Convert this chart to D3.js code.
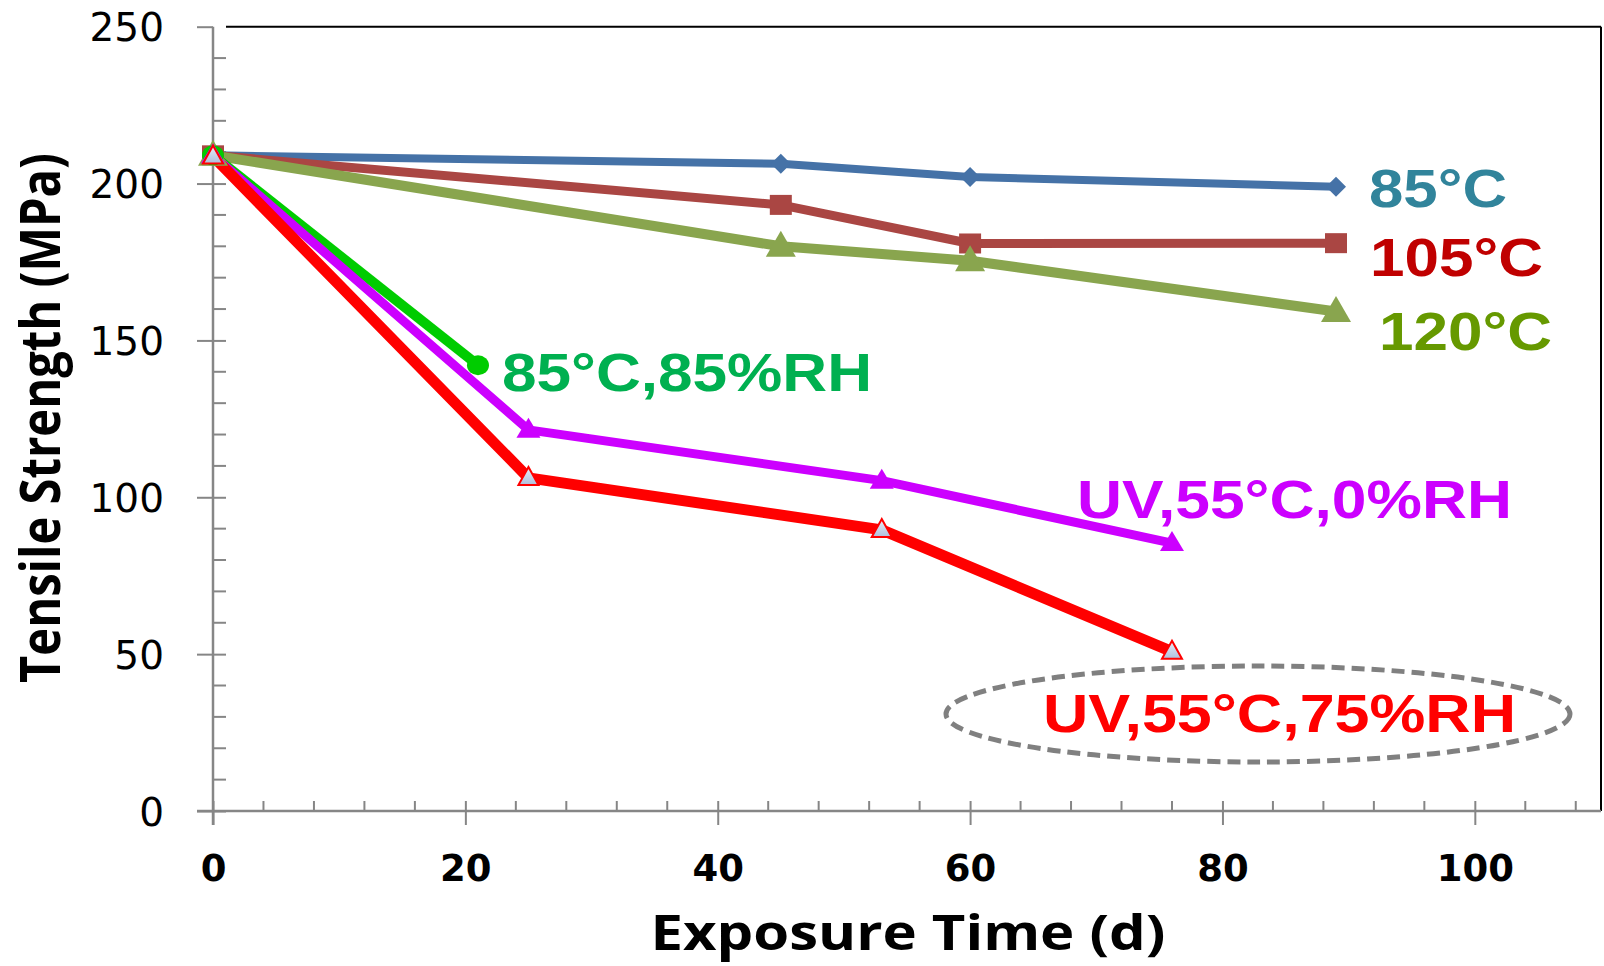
<!DOCTYPE html>
<html>
<head>
<meta charset="utf-8">
<script src="https://cdn.jsdelivr.net/npm/d3@7"></script>
<style>
  html, body { margin: 0; padding: 0; background: #fff; }
  svg { display: block; }
</style>
</head>
<body>
<svg id="chart" width="1604" height="966"></svg>
<script>
// ---------------- data ----------------
const days85   = [0, 45, 60, 89];
const ts85     = [209, 206.3, 202.1, 199];
const days105  = [0, 45, 60, 89];
const ts105    = [209, 193.2, 180.9, 181];
const days120  = [0, 45, 60, 89];
const ts120    = [209, 180, 175.4, 159.2];
const days8585 = [0, 21];
const ts8585   = [209, 142.1];
const daysUV0  = [0, 25, 53, 76];
const tsUV0    = [209, 121.5, 105.3, 85.4];
const daysUV75 = [0, 25, 53, 76];
const tsUV75   = [208.7, 106.2, 89.6, 50.8];

const seriesNames = ["85°C", "105°C", "120°C", "85°C,85%RH", "UV,55°C,0%RH", "UV,55°C,75%RH"];
const xTickValues = [0, 20, 40, 60, 80, 100];
const yTickValues = [0, 50, 100, 150, 200, 250];
const xTitle = "Exposure Time (d)";
const yTitle = "Tensile Strength (MPa)";

// ---------------- layout ----------------
const svg = d3.select("#chart");
const L = 213, R = 1601, T = 26.7, B = 811;
const x = d3.scaleLinear().domain([0, 110]).range([L, R]);
const y = d3.scaleLinear().domain([0, 250]).range([B, T]);
const AX = "#868686";

// frame (top and right black)
svg.append("line").attr("x1", 226).attr("x2", R).attr("y1", T).attr("y2", T)
  .attr("stroke", "#000").attr("stroke-width", 2);
svg.append("line").attr("x1", R).attr("x2", R).attr("y1", T).attr("y2", B)
  .attr("stroke", "#000").attr("stroke-width", 2);

// minor ticks
const yMinor = d3.range(0, 251, 10).filter(v => v % 50 !== 0);
svg.append("g").selectAll("line").data(yMinor).join("line")
  .attr("x1", L).attr("x2", L + 13).attr("y1", d => y(d)).attr("y2", d => y(d))
  .attr("stroke", AX).attr("stroke-width", 2);
const xMinor = d3.range(0, 110, 4).filter(v => v % 20 !== 0);
svg.append("g").selectAll("line").data(xMinor).join("line")
  .attr("x1", d => x(d)).attr("x2", d => x(d)).attr("y1", B).attr("y2", B - 10)
  .attr("stroke", AX).attr("stroke-width", 2);

// y axis
const gy = svg.append("g").attr("transform", `translate(${L},0)`)
  .call(d3.axisLeft(y).tickValues(yTickValues).tickSize(16).tickPadding(50));
gy.select(".domain").attr("stroke", AX).attr("stroke-width", 2.5)
  .attr("d", `M0,${T}V${B + 14}`);
gy.selectAll(".tick line").attr("stroke", AX).attr("stroke-width", 2)
  .attr("x1", d => d === 250 ? 0 : 13).attr("x2", -16);
gy.selectAll(".tick text")
  .attr("font-family", "DejaVu Sans").attr("font-size", 39).attr("fill", "#000")
  .attr("x", -49).attr("dy", null).attr("y", 14)
  .attr("text-anchor", "end");

// x axis
const gx = svg.append("g").attr("transform", `translate(0,${B})`)
  .call(d3.axisBottom(x).tickValues(xTickValues).tickSize(14).tickPadding(20));
gx.select(".domain").attr("stroke", AX).attr("stroke-width", 2.5)
  .attr("d", `M${L - 16},0H${R}`);
gx.selectAll(".tick line").attr("stroke", AX).attr("stroke-width", 2)
  .attr("y1", -10).attr("y2", 14);
gx.selectAll(".tick text")
  .attr("font-family", "DejaVu Sans").attr("font-weight", "bold").attr("font-size", 37)
  .attr("fill", "#000").attr("dy", null).attr("y", 70);

// titles
svg.append("text").text(xTitle)
  .attr("x", 908).attr("y", 950).attr("text-anchor", "middle")
  .attr("font-family", "Open Sans").attr("font-weight", "bold").attr("font-size", 48)
  .attr("textLength", 515).attr("lengthAdjust", "spacingAndGlyphs");
svg.append("text").text(yTitle)
  .attr("transform", "translate(60,418) scale(1.14,1) rotate(-90)")
  .attr("text-anchor", "middle")
  .attr("font-family", "Open Sans").attr("font-weight", "bold").attr("font-size", 48)
  .attr("textLength", 530).attr("lengthAdjust", "spacingAndGlyphs");

// ---------------- series ----------------
const defs = svg.append("defs");
const grad = defs.append("linearGradient").attr("id", "triFill")
  .attr("x1", 0).attr("y1", 0).attr("x2", 0).attr("y2", 1);
grad.append("stop").attr("offset", "0%").attr("stop-color", "#e8eef8");
grad.append("stop").attr("offset", "100%").attr("stop-color", "#aebfdc");

const shapes = {
  diamond: (w, h) => `M0,${-h}L${w},0L0,${h}L${-w},0Z`,
  square: (w, h) => `M${-w},${-h}H${w}V${h}H${-w}Z`,
  triangle: (w, h) => `M0,${-h * 0.6}L${w},${h * 0.4}L${-w},${h * 0.4}Z`,
  circle: (w, h) => `M${-w},0A${w},${h} 0 1,0 ${w},0A${w},${h} 0 1,0 ${-w},0Z`
};

const series = [
  { xs: days85,   ys: ts85,   color: "#4572A7", width: 8,  shape: "diamond",  w: 10, h: 10, fill: "#4572A7" },
  { xs: days105,  ys: ts105,  color: "#AA4643", width: 9,  shape: "square",   w: 11, h: 10, fill: "#AA4643" },
  { xs: days120,  ys: ts120,  color: "#89A54E", width: 10, shape: "triangle", w: 15, h: 26, fill: "#89A54E" },
  { xs: days8585, ys: ts8585, color: "#00CC00", width: 10, shape: "circle",   w: 11, h: 10, fill: "#00CC00" },
  { xs: daysUV0,  ys: tsUV0,  color: "#CC00FF", width: 9,  shape: "triangle", w: 12, h: 20, fill: "#CC00FF" },
  { xs: daysUV75, ys: tsUV75, color: "#FF0000", width: 11, shape: "triangle", w: 10, h: 18, fill: "url(#triFill)", stroke: "#FF0000" }
];

const line = d3.line().x(d => x(d[0])).y(d => y(d[1]));
series.forEach(s => {
  const pts = s.xs.map((v, i) => [v, s.ys[i]]);
  svg.append("path").datum(pts).attr("d", line)
    .attr("fill", "none").attr("stroke", s.color).attr("stroke-width", s.width)
    .attr("stroke-linejoin", "round");
});
series.forEach(s => {
  const pts = s.xs.map((v, i) => [v, s.ys[i]]);
  svg.append("g").selectAll("path").data(pts).join("path")
    .attr("transform", d => `translate(${x(d[0])},${y(d[1])})`)
    .attr("d", shapes[s.shape](s.w, s.h))
    .attr("fill", s.fill)
    .attr("stroke", s.stroke || "none").attr("stroke-width", s.stroke ? 2 : 0);
});

// ---------------- annotations ----------------
const labelStyle = [
  { color: "#31849B", x: 1369, y: 207, len: 138 },
  { color: "#C00000", x: 1370, y: 276, len: 173 },
  { color: "#669900", x: 1379, y: 350, len: 173 },
  { color: "#00B050", x: 502,  y: 391, len: 370 },
  { color: "#CC00FF", x: 1077, y: 518, len: 435 },
  { color: "#FF0000", x: 1043, y: 732, len: 473 }
];

svg.append("ellipse").attr("cx", 1258).attr("cy", 714).attr("rx", 312).attr("ry", 48)
  .attr("fill", "none").attr("stroke", "#808080").attr("stroke-width", 5)
  .attr("stroke-dasharray", "13,7");

seriesNames.forEach((name, i) => {
  const st = labelStyle[i];
  svg.append("text").text(name)
    .attr("x", st.x).attr("y", st.y)
    .attr("font-family", "Liberation Sans, Arial, sans-serif").attr("font-weight", "bold")
    .attr("font-size", 54).attr("fill", st.color)
    .attr("textLength", st.len).attr("lengthAdjust", "spacingAndGlyphs");
});
</script>
</body>
</html>
